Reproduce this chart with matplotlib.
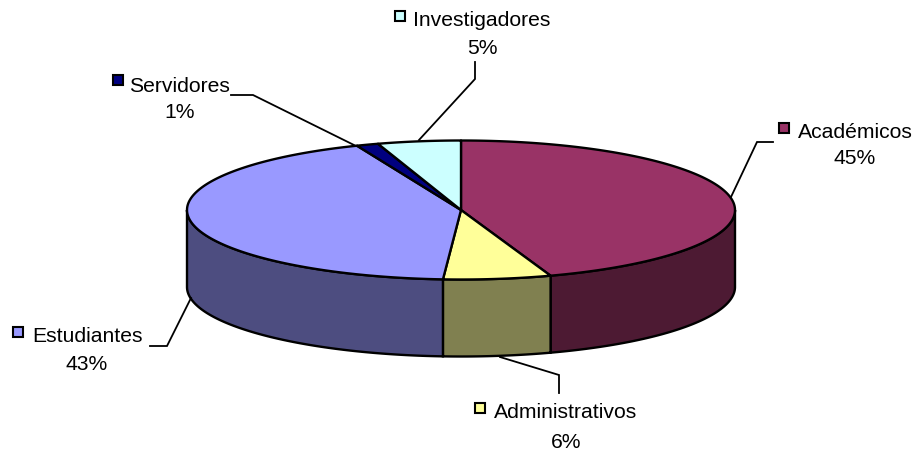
# coding=utf-8

import numpy as np
import matplotlib.pyplot as plt
from matplotlib.patches import Rectangle

plt.rcParams['font.family'] = ['Liberation Sans', 'DejaVu Sans']

## datos
categorias = ['Académicos', 'Administrativos', 'Estudiantes', 'Servidores', 'Investigadores']
valores = [44.7, 6.35, 42.75, 1.3, 4.9]
etiquetas = ['45%', '6%', '43%', '1%', '5%']
colores = ['#993366', '#FFFF99', '#9999FF', '#000080', '#CCFFFF']
oscuros = ['#4D1A33', '#808050', '#4D4D80', '#000040', '#668080']

## geometria en pixeles de la imagen
cx, cy = 461, 210
rx, ry = 274, 69.5
prof = 77
# centro del texto, y de las dos lineas, cuadrito de leyenda, linea guia
pos_texto = [(855, 132, 159), (566, 413, 442), (87, 337, 364), (180, 86, 113), (482, 21, 48)]
pos_cuadro = [(779, 123), (475, 403), (13, 327), (113, 75), (395, 11)]
guias = [
    [(731, 197), (757, 142), (773, 142)],
    [(500, 357), (559, 375), (559, 393)],
    [(191, 298), (167, 346), (150, 346)],
    [(356, 146), (253, 95), (231, 95)],
    [(419, 140), (475, 79), (475, 62)],
]


def borde(t, dy=0):
    # t en grados, desde las 12 en sentido horario
    r = np.radians(t)
    return cx + rx * np.sin(r), cy - ry * np.cos(r) + dy


fig = plt.figure(figsize=(9.17, 4.53), dpi=100)
ax = fig.add_axes([0, 0, 1, 1])
ax.set_xlim(0, 917)
ax.set_ylim(453, 0)
ax.axis('off')

bordes = np.concatenate([[0], np.cumsum(valores)]) * 360.0 / sum(valores)

# lados del cilindro, solo la mitad de adelante
for i in range(len(valores)):
    a, b = max(bordes[i], 90), min(bordes[i + 1], 270)
    if a >= b:
        continue
    t = np.linspace(a, b, 100)
    x, y = borde(t)
    x2, y2 = borde(t[::-1], prof)
    ax.fill(np.r_[x, x2], np.r_[y, y2], fc=oscuros[i], ec='black', lw=1.7, zorder=2)

# cara de arriba
for i in range(len(valores)):
    t = np.linspace(bordes[i], bordes[i + 1], 150)
    x, y = borde(t)
    ax.fill(np.r_[cx, x], np.r_[cy, y], fc=colores[i], ec='black', lw=1.7, joinstyle='round', zorder=3)

# lineas guia y etiquetas
for i in range(len(categorias)):
    g = np.array(guias[i])
    ax.plot(g[:, 0], g[:, 1], color='black', lw=1.3, zorder=4, solid_joinstyle='miter')
    tx, y1, y2 = pos_texto[i]
    ax.text(tx, y1, categorias[i], ha='center', va='center', fontsize=15.2, color='black')
    ax.text(tx, y2, etiquetas[i], ha='center', va='center', fontsize=15.2, color='black')
    sx, sy = pos_cuadro[i]
    ax.add_patch(Rectangle((sx, sy), 10, 10, fc=colores[i], ec='black', lw=1.5, zorder=4))

fig.savefig('out.png', dpi=100)
